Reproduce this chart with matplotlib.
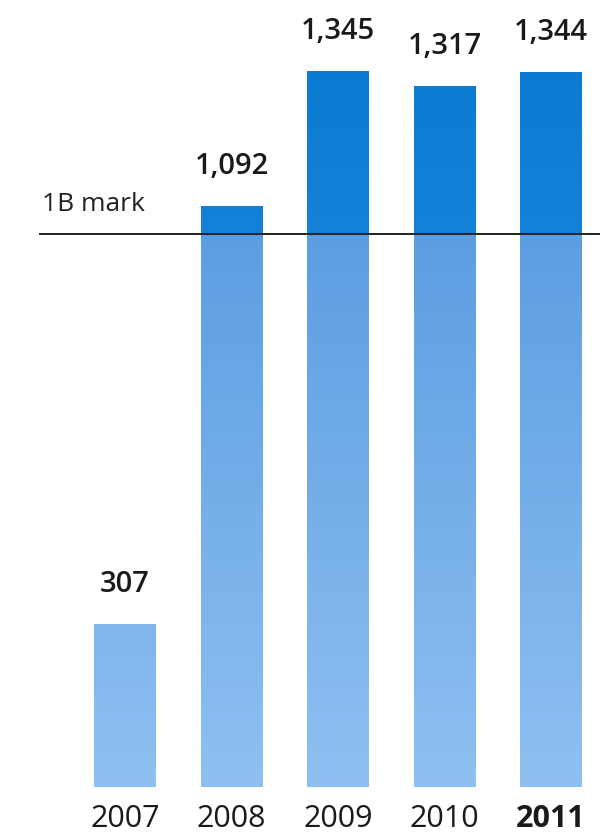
import numpy as np
import matplotlib
matplotlib.use('Agg')
import matplotlib.pyplot as plt
from matplotlib.colors import to_rgb

years = ['2007', '2008', '2009', '2010', '2011']
users = [307, 1092, 1345, 1317, 1344]
value_labels = ['307', '1,092', '1,345', '1,317', '1,344']
mark_level = 1040   # where the "1B mark" line sits in the picture
mark_label = '1B mark'

plt.rcParams['font.family'] = ['Open Sans', 'DejaVu Sans']

fig = plt.figure(figsize=(6, 8.36), dpi=100)
ax = fig.add_axes([0, 0, 1, 1])
ax.set_xlim(-1.174, 4.46)
ax.set_ylim(-92, 1479)
ax.axis('off')

# vertical colour ramp: light at the bottom, mid at the mark, dark above it
light = np.array(to_rgb('#8fc0f1'))
mid = np.array(to_rgb('#5c9ee2'))
dark_lo = np.array(to_rgb('#1482d8'))
dark_hi = np.array(to_rgb('#0877cf'))
vs = np.linspace(0, 1479, 800)
grad = np.zeros((len(vs), 1, 3))
for k, v in enumerate(vs):
    if v <= mark_level:
        t = v / mark_level
        grad[k, 0] = light * (1 - t) + mid * t
    else:
        t = (v - mark_level) / (1479 - mark_level)
        grad[k, 0] = dark_lo * (1 - t) + dark_hi * t

w = 0.58
bars = ax.bar(range(len(years)), users, width=w, color='none', edgecolor='none')
for i, b in enumerate(bars):
    im = ax.imshow(grad, origin='lower', aspect='auto',
                   extent=[i - w / 2, i + w / 2, 0, 1479], zorder=1)
    im.set_clip_path(b)
    ax.text(i, users[i] + 74, value_labels[i], ha='center', va='center',
            fontsize=21, fontweight='semibold', color='#1a1a1a')
    ax.text(i, -60, years[i], ha='center', va='center', fontsize=22,
            fontweight='bold' if years[i] == '2011' else 'normal', color='#1a1a1a')

ax.plot([-0.8, 4.46], [mark_level, mark_level], color='#222222', lw=1.4, zorder=3)
ax.text(-0.78, 1094, mark_label, ha='left', va='center',
        fontsize=19, color='#222222')

fig.savefig('out.png', dpi=100)
